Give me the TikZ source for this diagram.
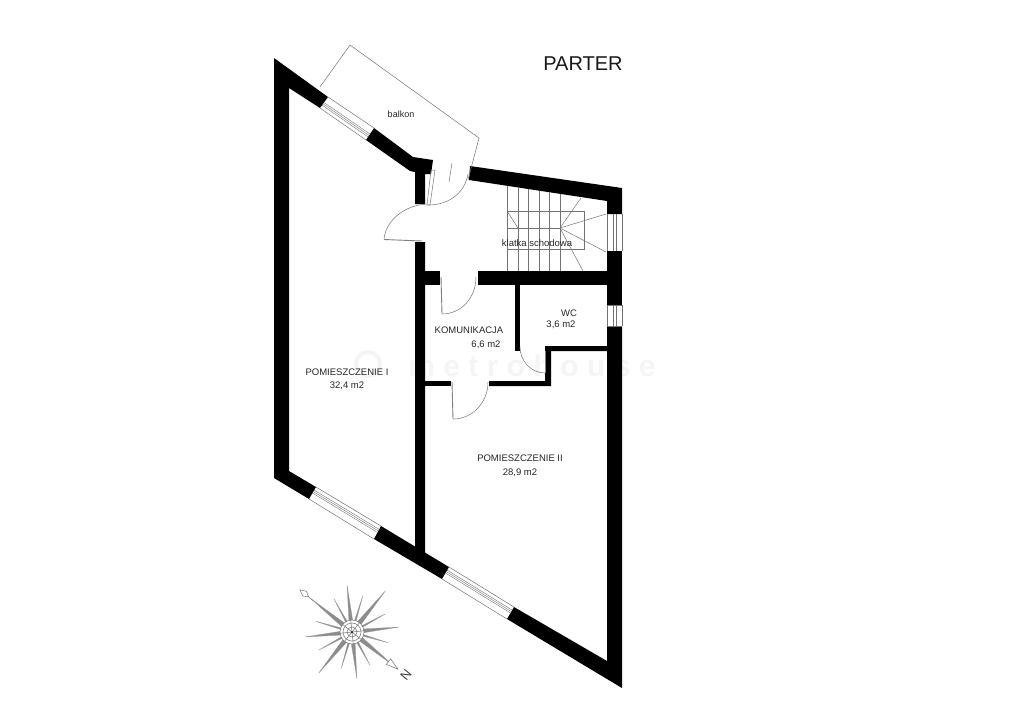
\documentclass[tikz,border=0pt]{standalone}
\usepackage{fontspec}
\setmainfont{Liberation Sans}
\newfontfamily\markfont[LetterSpace=28]{Liberation Sans}
\tikzstyle{wall} = [fill=black, draw=none]
\tikzstyle{thin} = [draw=black!55, line width=0.5pt]
\tikzstyle{pane} = [draw=black!55, line width=0.4pt]
\tikzstyle{leaf} = [draw=black!50, line width=0.9pt]
\tikzstyle{label} = [font=\fontsize{9.5}{11}\selectfont, text=black!85, inner sep=0pt]
\tikzstyle{ray} = [fill=black!45, draw=black!40, line width=0.3pt]
% window between two wall ends
\newcommand{\windowpanes}[4]{
    \draw [thin] (#1) -- (#2);
    \draw [thin] (#3) -- (#4);
    \foreach \f in {0.26,0.38,0.50} {
        \draw [pane] ($(#1)!\f!(#3)$) -- ($(#2)!\f!(#4)$);
    }
}
\usetikzlibrary{calc}

\begin{document}
\begin{tikzpicture}[x=1pt, y=-1pt]
        \useasboundingbox (0,0) rectangle (1024,716);

        % watermark
        \node (mark) at (532,366) [text=black!4, font=\fontsize{30}{30}\selectfont\markfont\bfseries, inner sep=0pt] {metrohouse};
        \node (logo) at (368,364) [circle, draw=black!4, line width=4pt, minimum size=24pt, inner sep=0pt] {};

        % walls
        \fill [wall] (274,58) -- (328,97) -- (320,108) -- (289,88) -- (289,471) -- (316,487) -- (309,499) -- (274,478) -- cycle;
        \fill [wall] (374,128) -- (413,157) -- (433,160) -- (431,174) -- (425,174) -- (425,204) -- (415,204) -- (415,172) -- (410,171) -- (366,140) -- cycle;
        \fill [wall] (470,166) -- (622,188) -- (622,214) -- (607,214) -- (607,201) -- (469,180) -- cycle;
        \fill [wall] (607,251) rectangle (622,305);
        \fill [wall] (607,326) -- (622,326) -- (622,688) -- (507,619) -- (514,607) -- (607,661) -- cycle;
        \fill [wall] (381,526) -- (449,567) -- (442,579) -- (374,539) -- cycle;
        \fill [wall] (415,242) -- (425,242) -- (425,560) -- (415,552) -- cycle;
        \fill [wall] (425,271) rectangle (440,285);
        \fill [wall] (478,271) rectangle (607,285);
        \fill [wall] (515,285) rectangle (520,351);
        \fill [wall] (545,346) -- (607,346) -- (607,351) -- (551,351) -- (551,386) -- (489,386) -- (489,381) -- (545,381) -- cycle;
        \fill [wall] (425,381) rectangle (451,386);

        % windows
        \coordinate (topa) at (328,97);
        \coordinate (topb) at (374,128);
        \coordinate (topc) at (320,108);
        \coordinate (topd) at (366,140);
        \windowpanes{topc}{topd}{topa}{topb}
        \coordinate (lowa) at (316,487);
        \coordinate (lowb) at (381,526);
        \coordinate (lowc) at (309,499);
        \coordinate (lowd) at (374,539);
        \windowpanes{lowa}{lowb}{lowc}{lowd}
        \coordinate (mida) at (449,567);
        \coordinate (midb) at (514,607);
        \coordinate (midc) at (442,579);
        \coordinate (midd) at (507,619);
        \windowpanes{mida}{midb}{midc}{midd}
        \draw [thin] (607,214) -- (607,251);
        \draw [thin] (613,214) -- (613,251);
        \draw [thin] (616,214) -- (616,251);
        \draw [thin] (622,214) -- (622,251);
        \draw [thin] (607,305) -- (607,326);
        \draw [thin] (613,305) -- (613,326);
        \draw [thin] (616,305) -- (616,326);
        \draw [thin] (622,305) -- (622,326);
        \draw [thin] (607,305) -- (622,305);
        \draw [thin] (607,326) -- (622,326);

        % balcony
        \draw [thin] (320,87) -- (350,45) -- (479,138) -- (468,180);
        \draw [thin] (452,163) -- (449,182);

        % doors
        \draw [thin] (431,170) -- (435,170) -- (430,205) -- (427,205) -- cycle;
        \draw [thin] (428,205) .. controls (450,205) and (465,192) .. (468,174);
        \draw [thin] (384,239) .. controls (386,220) and (405,205) .. (427,204);
        \draw [leaf] (384,239.5) -- (422,241);
        \draw [leaf] (441,277) -- (442,314);
        \draw [thin] (442,314) .. controls (461,314) and (476,298) .. (476,277);
        \draw [leaf] (452,382) -- (453,419);
        \draw [thin] (453,419) .. controls (472,419) and (488,403) .. (488,382);
        \draw [leaf] (545,351) -- (545,373);
        \draw [thin] (545,373) .. controls (531,373) and (520,361) .. (520,347);

        % stairs
        \foreach \x/\y in {507/186,518/188,528/189,539/191,549/192,560/194} {
            \draw [thin] (\x,\y) -- (\x,271);
        }
        \draw [thin] (507,211) rectangle (584,249);
        \draw [thin] (507,228) -- (560,228);
        \draw [thin] (507,211) -- (518,228);
        \foreach \x/\y in {581/198,606/214,606/252,583/271} {
            \draw [thin] (560,228) -- (\x,\y);
        }

        % labels
        \node (parter) at (583,64) [label, font=\fontsize{20}{24}\selectfont, text=black!90] {PARTER};
        \node (balkon) at (401,114) [label, font=\fontsize{9}{11}\selectfont] {balkon};
        \node (klatka) at (537,243) [label] {klatka schodowa};
        \node (komunikacja) at (469,330) [label] {KOMUNIKACJA};
        \node (komunikacja_m) at (486,345) [label] {6,6 m2};
        \node (wc) at (569,313) [label] {WC};
        \node (wc_m) at (561,325) [label] {3,6 m2};
        \node (pom_a) at (347,372) [label] {POMIESZCZENIE I};
        \node (pom_a_m) at (347,386) [label] {32,4 m2};
        \node (pom_b) at (520,458) [label] {POMIESZCZENIE II};
        \node (pom_b_m) at (520,473) [label] {28,9 m2};

        % compass
        \begin{scope}[shift={(352,632)}]
            \foreach \a in {39,129,219,309} {
                \fill [ray] (\a-11:12) -- (\a:53) -- (\a+11:12) -- cycle;
            }
            \foreach \a in {84,174,264,354} {
                \fill [ray] (\a-9:12) -- (\a:47) -- (\a+9:12) -- cycle;
            }
            \foreach \a in {16.5,61.5,106.5,151.5,196.5,241.5,286.5,331.5} {
                \fill [ray] (\a-4:12) -- (\a:38) -- (\a+4:12) -- cycle;
            }
            \draw [thin, fill=white] (0,0) circle (12);
            \draw [thin] (0,0) circle (9);
            \draw [thin] (0,0) circle (5);
            \foreach \a in {39,84,129,174,219,264,309,354} {
                \draw [thin] (0,0) -- (\a:12);
            }
            \fill [black] (0,0) circle (1);
            \coordinate (tipn) at (39:59);
            \coordinate (tips) at (219:67);
            \draw [thin] (219:50) -- (tips);
            \draw [thin] (39:50) -- (tipn);
            \draw [thin, fill=white] (39:59) -- ($(39:47)+(129:3.5)$) -- ($(39:47)+(309:3.5)$) -- cycle;
            \draw [thin, fill=white] (219:67) -- ($(219:61)+(129:3)$) -- (219:56) -- ($(219:61)+(309:3)$) -- cycle;
        \end{scope}
        \node (north) at (406,675) [rotate=-129, font=\fontsize{13}{13}\selectfont, text=black!75, inner sep=0pt] {N};
    \end{tikzpicture}
\end{document}
